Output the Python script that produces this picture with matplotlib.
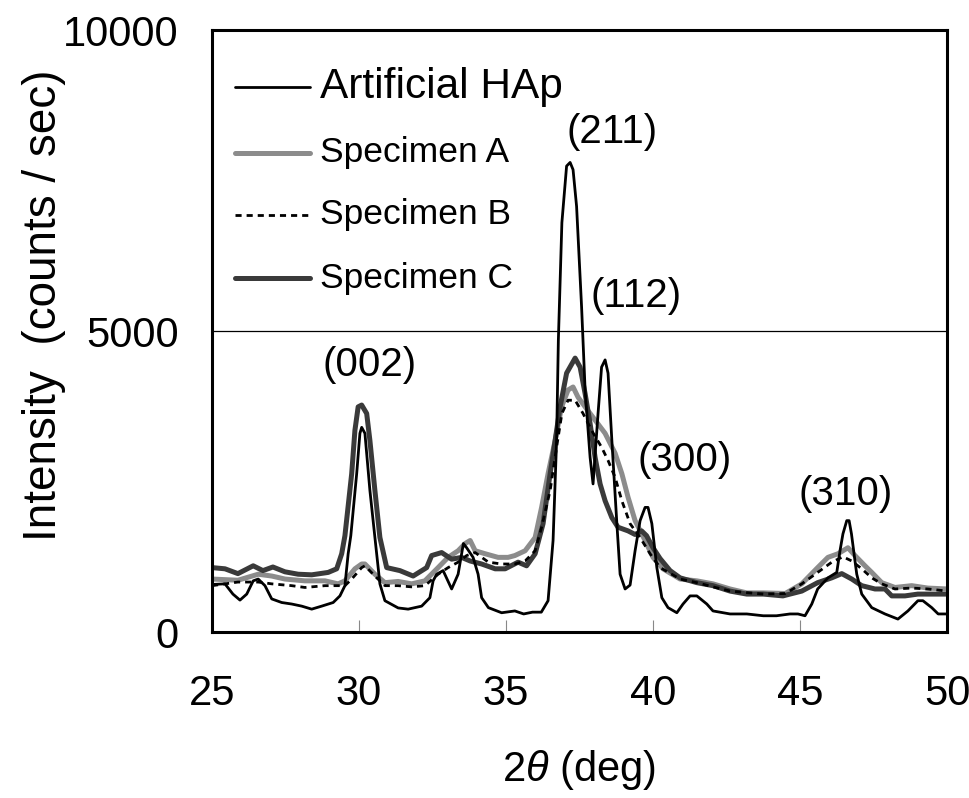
import matplotlib
matplotlib.use("Agg")
import matplotlib.pyplot as plt
import numpy as np

plt.rcParams['font.family'] = ['Liberation Sans', 'DejaVu Sans']
plt.rcParams['mathtext.fontset'] = 'custom'
plt.rcParams['mathtext.rm'] = 'Liberation Sans'
plt.rcParams['mathtext.it'] = 'Liberation Sans:italic'

# 2theta (deg) / intensity (counts/sec)
hap_x = [25.0, 25.44, 25.71, 25.95, 26.18, 26.4, 26.57, 26.8, 27.03, 27.37, 27.71, 28.05, 28.39,
         28.73, 29.12, 29.35, 29.52, 29.63, 29.72, 29.92, 30.03, 30.09, 30.2, 30.37, 30.54, 30.71,
         30.88, 31.33, 31.67, 32.13, 32.41, 32.52, 32.64, 32.86, 33.15, 33.37, 33.55, 33.66, 33.88,
         34.05, 34.17, 34.4, 34.85, 35.3, 35.6, 35.9, 36.2, 36.43, 36.6, 36.72, 36.78, 36.9, 37.06,
         37.18, 37.28, 37.4, 37.57, 37.69, 37.86, 37.96, 38.13, 38.25, 38.37, 38.47, 38.6, 38.77,
         38.88, 39.05, 39.22, 39.39, 39.56, 39.73, 39.83, 39.96, 40.13, 40.3, 40.51, 40.81, 41.02,
         41.26, 41.49, 41.83, 42.04, 42.62, 43.19, 43.75, 44.2, 44.66, 44.93, 45.17, 45.4, 45.6,
         45.95, 46.25, 46.36, 46.46, 46.59, 46.67, 46.75, 46.87, 46.93, 47.1, 47.44, 47.89, 48.33,
         48.67, 49.01, 49.18, 49.48, 49.7, 50.0]
hap_y = [790, 800, 630, 530, 630, 850, 880, 770, 550, 490, 465, 430, 380,
         430, 490, 600, 770, 1300, 1600, 2630, 3300, 3400, 3300, 2350, 1570, 800,
         520, 400, 380, 430, 570, 850, 960, 1020, 715, 960, 1470, 1400, 1240,
         960, 570, 405, 320, 350, 300, 330, 330, 520, 1520, 3180, 4850, 6800, 7740,
         7800, 7680, 7070, 5400, 4020, 2900, 2460, 3630, 4400, 4520, 4300, 3180, 1800,
         960, 715, 780, 1350, 1850, 2070, 2070, 1800, 1070, 570, 405, 320, 465,
         600, 600, 465, 350, 300, 300, 270, 270, 300, 300, 270, 465, 715,
         900, 990, 1350, 1630, 1850, 1850, 1630, 1180, 960, 630, 405, 300, 215,
         350, 520, 520, 405, 300, 300]

spa_x = [25.0, 25.88, 26.57, 27.03, 27.48, 28.16, 28.84, 29.29, 29.52, 29.86, 30.09, 30.2, 30.54,
         30.88, 31.33, 31.79, 32.24, 32.69, 33.03, 33.37, 33.61, 33.78, 33.95, 34.29, 34.73, 35.07,
         35.3, 35.65, 35.99, 36.21, 36.43, 36.67, 36.89, 37.11, 37.28, 37.45, 37.69, 38.03, 38.37,
         38.71, 38.94, 39.15, 39.39, 39.73, 40.0, 40.34, 40.92, 41.49, 42.04, 42.62, 43.19, 43.75,
         44.5, 45.06, 45.6, 45.95, 46.29, 46.63, 46.87, 47.21, 47.44, 47.78, 48.23, 48.8, 49.35, 50.0]
spa_y = [880, 860, 960, 930, 880, 850, 850, 800, 850, 1050, 1130, 1130, 960,
         820, 840, 800, 850, 1070, 1240, 1350, 1470, 1520, 1350, 1300, 1240, 1240,
         1270, 1350, 1570, 2070, 2630, 3180, 3740, 4020, 4070, 3900, 3740, 3520, 3300,
         2970, 2630, 2240, 1850, 1520, 1240, 1050, 880, 850, 800, 715, 650, 650,
         640, 800, 1070, 1240, 1300, 1400, 1270, 1100, 990, 820, 740, 770, 730, 715]

spb_x = [25.0, 25.88, 26.57, 27.03, 27.71, 28.16, 28.84, 29.52, 29.75, 30.09, 30.2, 30.54, 30.88,
         31.33, 31.79, 32.24, 32.69, 33.03, 33.37, 33.66, 33.95, 34.4, 34.85, 35.3, 35.65, 35.99,
         36.21, 36.5, 36.72, 36.9, 37.11, 37.35, 37.62, 37.91, 38.25, 38.47, 38.71, 38.94, 39.22,
         39.56, 39.9, 40.24, 40.92, 41.49, 42.04, 42.62, 43.75, 44.5, 45.06, 45.6, 46.08, 46.46,
         46.76, 47.1, 47.44, 47.78, 48.23, 48.8, 49.35, 50.0]
spb_y = [770, 830, 830, 800, 770, 740, 770, 770, 880, 1070, 1100, 930, 770,
         770, 750, 770, 960, 1070, 1160, 1270, 1320, 1160, 1130, 1130, 1180, 1350,
         1740, 2350, 3070, 3630, 3850, 3850, 3630, 3350, 3070, 2850, 2570, 2180, 1800,
         1570, 1300, 1070, 880, 820, 750, 680, 630, 640, 800, 990, 1160, 1250,
         1180, 1050, 900, 800, 715, 730, 715, 680]

spc_x = [25.0, 25.44, 25.88, 26.4, 26.73, 27.07, 27.48, 27.93, 28.39, 28.95, 29.24, 29.41, 29.52,
         29.75, 29.86, 29.97, 30.09, 30.26, 30.37, 30.54, 30.71, 30.94, 31.39, 31.84, 32.3, 32.47,
         32.81, 33.15, 33.49, 33.78, 34.17, 34.63, 34.97, 35.41, 35.7, 35.99, 36.26, 36.5, 36.67,
         36.84, 37.06, 37.35, 37.52, 37.69, 37.86, 38.03, 38.2, 38.37, 38.6, 38.81, 39.15, 39.39,
         39.61, 39.78, 40.0, 40.24, 40.58, 40.92, 41.49, 42.04, 42.62, 43.19, 43.75, 44.42, 45.06,
         45.6, 46.08, 46.42, 46.76, 47.1, 47.55, 47.89, 48.12, 48.57, 49.01, 50.0]
spc_y = [1070, 1050, 970, 1100, 1020, 1080, 1000, 960, 950, 990, 1050, 1300, 1600,
         2630, 3350, 3740, 3770, 3630, 3180, 2350, 1570, 1070, 1020, 930, 1070, 1270,
         1320, 1210, 1240, 1180, 1130, 1050, 1050, 1160, 1100, 1300, 1800, 2630, 3180,
         3740, 4300, 4550, 4400, 3960, 3460, 2900, 2460, 2180, 1900, 1740, 1680, 1620,
         1680, 1600, 1400, 1220, 1020, 900, 820, 770, 680, 630, 630, 600, 680,
         820, 900, 970, 880, 770, 715, 715, 600, 600, 630, 630]

peak_labels = ['(211)', '(112)', '(002)', '(300)', '(310)']
peak_x = [38.6, 39.42, 30.37, 41.09, 46.56]
peak_y = [8300, 5585, 4430, 2850, 2300]

fig = plt.figure(figsize=(9.7, 7.98), dpi=100)
ax = fig.add_axes([0.2186, 0.2080, 0.7577, 0.7544])

ax.plot(spa_x, spa_y, color='#8c8c8c', lw=3.6, solid_capstyle='round')
ax.plot(spc_x, spc_y, color='#3a3a3a', lw=3.6, solid_capstyle='round')
ax.plot(spb_x, spb_y, color='black', lw=2.0, ls=(0, (2.2, 1.8)))
ax.plot(hap_x, hap_y, color='black', lw=2.0)

for lab, px, py in zip(peak_labels, peak_x, peak_y):
    ax.text(px, py, lab, fontsize=29, ha='center', va='center')

# legend drawn by hand (Excel style)
leg = [('Artificial HAp', 'black', 2.0, '-', 0.905, 30.5),
       ('Specimen A', '#8c8c8c', 3.6, '-', 0.796, 25.5),
       ('Specimen B', 'black', 2.0, (0, (2.2, 1.8)), 0.693, 25.5),
       ('Specimen C', '#3a3a3a', 3.6, '-', 0.588, 25.5)]
for name, c, w, s, yy, fs in leg:
    ax.plot([0.031, 0.133], [yy, yy], transform=ax.transAxes, color=c, lw=w, ls=s,
            solid_capstyle='round')
    ax.text(0.147, yy, name, transform=ax.transAxes, fontsize=fs, va='center', ha='left')

ax.set_xlim(25, 50)
ax.set_ylim(0, 10000)
ax.set_xticks([25, 30, 35, 40, 45, 50])
ax.set_yticks([0, 5000, 10000])
ax.grid(axis='y', color='black', lw=0.9)
ax.set_axisbelow(True)
ax.tick_params(axis='x', direction='in', length=8.6, width=0.8, color='#888888',
               labelsize=30, pad=30)
ax.tick_params(axis='y', length=0, labelsize=30, pad=24)
for sp in ax.spines.values():
    sp.set_linewidth(2.2)

ax.set_xlabel(r'2$\theta$ (deg)', fontsize=30, va='center')
ax.xaxis.set_label_coords(0.499, -0.229)
ax.set_ylabel('Intensity  (counts / sec)', fontsize=33, va='center')
ax.yaxis.set_label_coords(-0.228, 0.543)

fig.savefig('out.png', dpi=100)
